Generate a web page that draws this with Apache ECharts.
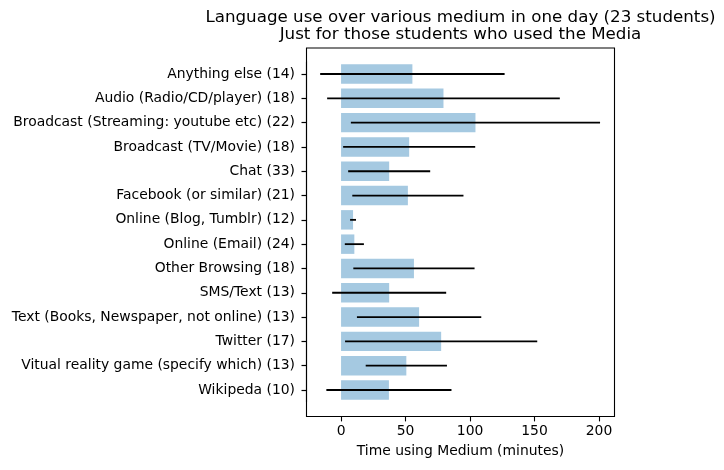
<!DOCTYPE html>
<html>
<head>
<meta charset="utf-8">
<script src="https://cdn.jsdelivr.net/npm/echarts@6/dist/echarts.min.js"></script>
<style>html,body{margin:0;padding:0;background:#fff;}#c{width:724px;height:470px;}</style>
</head>
<body>
<div id="c"></div>
<script>
const categories = [
  'Anything else (14)',
  'Audio (Radio/CD/player) (18)',
  'Broadcast (Streaming: youtube etc) (22)',
  'Broadcast (TV/Movie) (18)',
  'Chat (33)',
  'Facebook (or similar) (21)',
  'Online (Blog, Tumblr) (12)',
  'Online (Email) (24)',
  'Other Browsing (18)',
  'SMS/Text (13)',
  'Text (Books, Newspaper, not online) (13)',
  'Twitter (17)',
  'Vitual reality game (specify which) (13)',
  'Wikipeda (10)'
];
const meanMinutes = [55.3, 79.4, 104.2, 52.8, 37.3, 51.8, 9.3, 10.3, 56.5, 37.3, 60.5, 77.6, 50.6, 37.1];
const stdMinutes  = [71.5, 90.2, 96.6, 51.2, 31.8, 43.1, 2.3, 7.4, 47.0, 44.2, 48.2, 74.5, 31.5, 48.5];
const xTicks = [0, 50, 100, 150, 200];

const FONT = 'DejaVu Sans';
const errData = meanMinutes.map((m, i) => [i, m - stdMinutes[i], m + stdMinutes[i]]);

const chart = echarts.init(document.getElementById('c'), null, {renderer: 'canvas'});
chart.setOption({
  animation: false,
  backgroundColor: '#fff',
  textStyle: {fontFamily: FONT},
  title: {
    text: 'Language use over various medium in one day (23 students)\nJust for those students who used the Media',
    left: 460.5,
    top: 8.5,
    padding: 0,
    textAlign: 'center',
    textStyle: {fontFamily: FONT, fontSize: 16.7, fontWeight: 'normal', color: '#000', lineHeight: 17.5}
  },
  grid: [
    {left: 306.5, top: 48, width: 308, height: 368.5, show: true, borderColor: '#000', borderWidth: 1.1, backgroundColor: 'transparent', outerBoundsMode: 'none'},
    {left: 306.5, top: 61.85, width: 308, height: 340.3, show: false, outerBoundsMode: 'none'}
  ],
  xAxis: [
    {
      gridIndex: 0, type: 'value', min: -26.8, max: 212,
      axisLine: {show: false, onZero: false},
      splitLine: {show: false},
      axisTick: {show: true, length: 4.9, customValues: xTicks, lineStyle: {color: '#000', width: 1.1}},
      axisLabel: {customValues: xTicks, margin: 8, fontSize: 13.9, color: '#000', fontFamily: FONT},
      name: 'Time using Medium (minutes)',
      nameLocation: 'middle',
      nameGap: 28,
      nameTextStyle: {fontSize: 13.9, color: '#000', fontFamily: FONT}
    },
    {gridIndex: 1, type: 'value', min: -26.8, max: 212, show: false, splitLine: {show: false}, axisLine: {onZero: false}}
  ],
  yAxis: [
    {gridIndex: 0, type: 'value', min: 0, max: 1, show: false, splitLine: {show: false}, axisLine: {onZero: false}},
    {
      gridIndex: 1, type: 'category', data: categories, inverse: true, position: 'left',
      axisLine: {show: true, onZero: false, lineStyle: {color: '#000', width: 1.1}},
      splitLine: {show: false},
      axisTick: {show: true, inside: false, alignWithLabel: true, length: 5, lineStyle: {color: '#000', width: 1.2}},
      axisLabel: {margin: 11.5, fontSize: 13.9, color: '#000', fontFamily: FONT, interval: 0}
    }
  ],
  series: [
    {
      type: 'bar', xAxisIndex: 1, yAxisIndex: 1,
      data: meanMinutes, barWidth: '80%',
      itemStyle: {color: '#a5c9e1'},
      z: 2
    },
    {
      type: 'custom', xAxisIndex: 1, yAxisIndex: 1,
      data: errData,
      encode: {y: 0, x: [1, 2]},
      z: 3,
      renderItem: function (params, api) {
        const idx = api.value(0);
        const p1 = api.coord([api.value(1), idx]);
        const p2 = api.coord([api.value(2), idx]);
        return {
          type: 'line',
          shape: {x1: p1[0], y1: p1[1], x2: p2[0], y2: p2[1]},
          style: {stroke: '#000', lineWidth: 1.8}
        };
      }
    }
  ]
});
</script>
</body>
</html>
